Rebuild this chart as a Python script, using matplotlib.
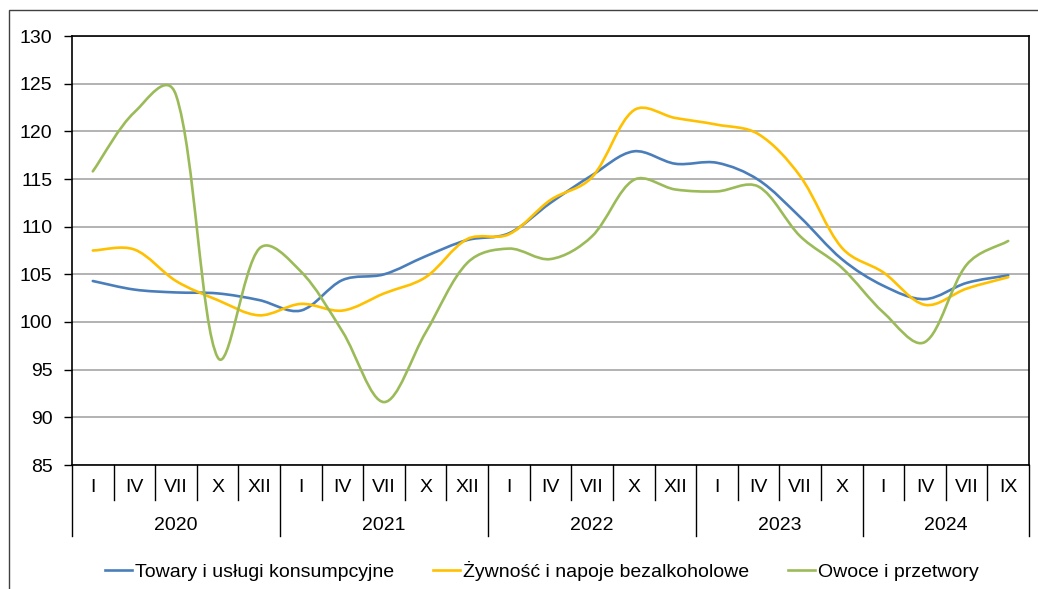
import numpy as np
import matplotlib
matplotlib.use('Agg')
import matplotlib.pyplot as plt
from matplotlib.path import Path
from matplotlib.patches import PathPatch, Rectangle
import matplotlib.transforms as mtransforms

plt.rcParams['font.family'] = ['Liberation Sans', 'DejaVu Sans']
FS = 14

# kategorie osi X: miesiace i lata
months = ['I', 'IV', 'VII', 'X', 'XII',
          'I', 'IV', 'VII', 'X', 'XII',
          'I', 'IV', 'VII', 'X', 'XII',
          'I', 'IV', 'VII', 'X',
          'I', 'IV', 'VII', 'IX']
years = ['2020', '2021', '2022', '2023', '2024']
year_sizes = [5, 5, 5, 4, 4]

towary = [104.3, 103.4, 103.1, 103.0, 102.3, 101.2, 104.4, 105.0, 106.9, 108.6,
          109.3, 112.5, 115.4, 117.9, 116.6, 116.7, 114.9, 111.0, 106.6,
          103.8, 102.4, 104.1, 104.9]
zywnosc = [107.5, 107.6, 104.3, 102.3, 100.7, 101.9, 101.2, 103.0, 104.7, 108.7,
           109.2, 112.8, 115.2, 122.2, 121.4, 120.7, 119.7, 115.3, 107.8,
           105.2, 101.8, 103.5, 104.7]
owoce = [115.8, 122.0, 123.8, 96.3, 107.7, 105.3, 99.0, 91.6, 98.9, 106.2,
         107.7, 106.6, 109.0, 114.9, 113.9, 113.7, 114.2, 109.0, 105.7,
         101.0, 97.9, 106.0, 108.5]

labels = ['Towary i usługi konsumpcyjne', 'Żywność i napoje bezalkoholowe', 'Owoce i przetwory']
colors = ['#4A7EBB', '#FFC000', '#9BBB59']

PX_X = 41.6   # piksele na kategorie
PX_Y = 9.533  # piksele na jednostke


def smooth_path(x, y):
    # wygladzona linia jak w Excelu (Bezier, ramiona czesciowo wazone dlugoscia odcinkow)
    p = np.column_stack([np.asarray(x) * PX_X, np.asarray(y) * PX_Y]).astype(float)
    n = len(p)
    c_in = p.copy()
    c_out = p.copy()
    for i in range(n):
        a = p[max(i - 1, 0)]
        b = p[min(i + 1, n - 1)]
        l1 = np.hypot(*(p[i] - a))
        l2 = np.hypot(*(b - p[i]))
        if l1 + l2 == 0:
            continue
        d = b - a
        w = 0.5 * 0.5 + 0.5 * l2 / (l1 + l2)
        c_out[i] = p[i] + d * w / 3
        c_in[i] = p[i] - d * (1 - w) / 3
    verts = [p[0]]
    codes = [Path.MOVETO]
    for i in range(n - 1):
        verts += [c_out[i], c_in[i + 1], p[i + 1]]
        codes += [Path.CURVE4] * 3
    verts = np.array(verts) / [PX_X, PX_Y]
    return Path(verts, codes)


fig = plt.figure(figsize=(10.38, 5.89), dpi=100)
ax = fig.add_axes([72 / 1038, 1 - 465 / 589, (1029 - 72) / 1038, (465 - 36) / 589])

# ramka wykresu
fig.patches.append(Rectangle((9 / 1038, -0.05), 1.1, 1 - 10 / 589 + 0.05, transform=fig.transFigure,
                             fill=False, edgecolor='#404040', linewidth=1.0))

x = np.arange(len(months))
for data, lab, col in zip([towary, zywnosc, owoce], labels, colors):
    ax.add_patch(PathPatch(smooth_path(x, data), fill=False, edgecolor=col, linewidth=1.9,
                           capstyle='round', joinstyle='round'))
    ax.plot([], [], color=col, linewidth=1.9, label=lab)

ax.set_xlim(-0.5, len(months) - 0.5)
ax.set_ylim(85, 130)
ax.set_yticks(np.arange(85, 131, 5))
ax.tick_params(axis='y', labelsize=FS, length=6, width=1, pad=8, colors='black')
ax.grid(axis='y', color='#A6A6A6', linewidth=1.2)
ax.set_axisbelow(True)
for s in ax.spines.values():
    s.set_color('black')
    s.set_linewidth(1.2)

# os kategorii wielopoziomowa
ax.set_xticks([])
trans = mtransforms.blended_transform_factory(ax.transData, ax.transAxes)
h = 465 - 36
y_short = -(500 - 465) / h
y_long = -(536 - 465) / h
bounds = np.cumsum([0] + year_sizes)
for b in range(len(months) + 1):
    yb = y_long if b in bounds else y_short
    ax.plot([b - 0.5, b - 0.5], [0, yb], color='black', linewidth=1.0, transform=trans, clip_on=False)
for i, m in enumerate(months):
    ax.text(i, -(488 - 465) / h, m, transform=trans, ha='center', va='center', fontsize=FS)
for j, yr in enumerate(years):
    mid = (bounds[j] + bounds[j + 1]) / 2 - 0.5
    ax.text(mid, -(525 - 465) / h, yr, transform=trans, ha='center', va='center', fontsize=FS)

fig.legend(loc='center', bbox_to_anchor=(542 / 1038, 18 / 589), ncol=3, frameon=False,
           fontsize=FS, handlelength=1.4, handletextpad=0.15, columnspacing=2.0)

fig.savefig('out.png', dpi=100)
